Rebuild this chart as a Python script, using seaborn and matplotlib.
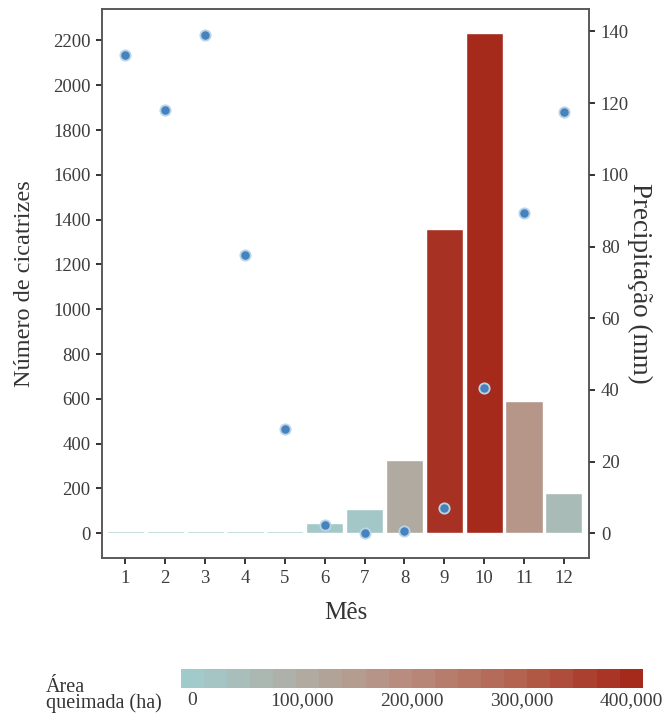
import numpy as np
import pandas as pd
import matplotlib
matplotlib.use("Agg")
import matplotlib.pyplot as plt
import seaborn as sns
from matplotlib.colors import LinearSegmentedColormap, Normalize

# monthly values
months = list(range(1, 13))
scars = [8, 8, 8, 8, 10, 47, 107, 326, 1357, 2232, 590, 181]
precip = [133.5, 118.0, 139.0, 77.6, 29.2, 2.4, 0.0, 0.5, 7.0, 40.4, 89.3, 117.5]
burned_area = [500, 400, 600, 700, 1500, 9000, 14000, 105000, 385000, 400000, 165000, 50000]
cbar_ticks = [0, 100000, 200000, 300000, 400000]
left_ticks = list(range(0, 2201, 200))
right_ticks = list(range(0, 141, 20))

df = pd.DataFrame({"mes": months, "cicatrizes": scars, "precip": precip, "area": burned_area})

cmap = LinearSegmentedColormap.from_list(
    "area", ["#a1cbcb", "#afaca2", "#b98a7b", "#b3614d", "#a52a1c"])
norm = Normalize(0, 400000)
bar_colors = {m: cmap(norm(a)) for m, a in zip(months, burned_area)}

sns.set_theme(style="ticks")
plt.rcParams["font.family"] = ["Liberation Serif", "DejaVu Serif"]
txt = "#333333"
tick_txt = "#3d3d3d"

fig = plt.figure(figsize=(6.68, 7.2), dpi=100)
ax = fig.add_axes([102.3 / 668, 1 - 558.3 / 720, (589 - 102.3) / 668, (558.3 - 9.3) / 720])

sns.barplot(data=df, x="mes", y="cicatrizes", hue="mes", palette=bar_colors,
            native_scale=True, width=0.93, dodge=False, legend=False,
            errorbar=None, saturation=1, edgecolor="white", linewidth=1, ax=ax)

ax2 = ax.twinx()
sns.scatterplot(data=df, x="mes", y="precip", ax=ax2, color="#4683bd", s=55,
                edgecolor="#b9d4e8", linewidth=1.3, zorder=3)

ax.set_xlim(0.42, 12.63)
ax.set_ylim(-112, 2339)
ax2.set_ylim(-112 / 16, 2339 / 16)
ax.set_xticks(months)
ax.set_xticklabels([str(m) for m in months])
ax.set_yticks(left_ticks)
ax2.set_yticks(right_ticks)

for a in (ax, ax2):
    for s in a.spines.values():
        s.set_color("#555555")
        s.set_linewidth(1.1)
    a.tick_params(length=4.5, width=1.4, color="#333333", labelsize=13.5,
                  labelcolor=tick_txt, pad=4)

ax.set_xlabel("Mês", fontsize=18, color=txt)
ax.set_ylabel("Número de cicatrizes", fontsize=17.5, color=txt)
ax2.set_ylabel("Precipitação (mm)", fontsize=19.5, color=txt, rotation=270, va="bottom")
ax.xaxis.set_label_coords(0.5, -0.08)
ax.yaxis.set_label_coords(-0.1383, 0.5)
ax2.yaxis.set_label_coords(1.078, 0.5)

# colour bar legend (20 bins, like ggplot's default)
cax = fig.add_axes([180.7 / 668, 1 - 688.3 / 720, 462 / 668, 19 / 720])
half = 400000 / 19 / 2
bounds = np.linspace(-half, 400000 + half, 21)
sm = plt.cm.ScalarMappable(norm=norm, cmap=cmap)
cb = fig.colorbar(sm, cax=cax, orientation="horizontal", boundaries=bounds,
                  values=np.linspace(0, 400000, 20))
cb.outline.set_visible(False)
cb.set_ticks(cbar_ticks)
cb.set_ticklabels([f"{t:,}" for t in cbar_ticks])
cax.tick_params(top=True, bottom=True, direction="in", length=3, width=1,
                color="white", labelcolor=tick_txt, labelsize=14, pad=3)

fig.text(46 / 668, 1 - 692.3 / 720, "Área", fontsize=14.5, color=txt, va="baseline")
fig.text(46 / 668, 1 - 708.3 / 720, "queimada (ha)", fontsize=14.5, color=txt, va="baseline")

fig.savefig("out.png", dpi=100)
